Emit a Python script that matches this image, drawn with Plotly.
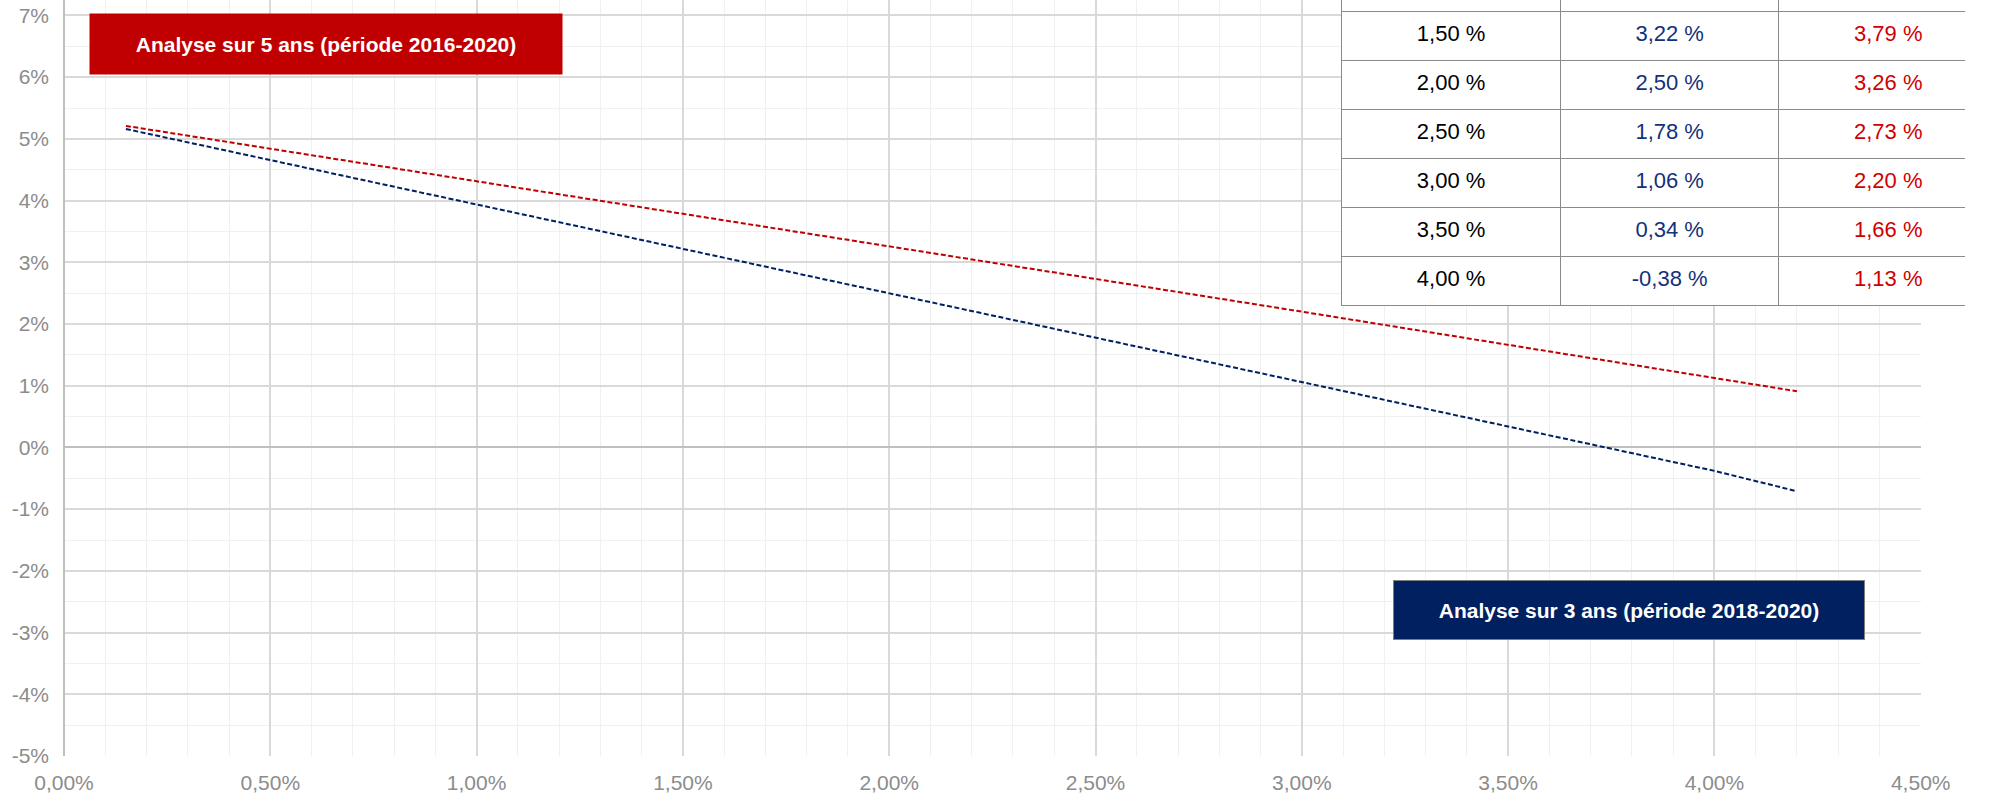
import plotly.graph_objects as go

# ---- data (fractions) ----
x_vals = [0.0015, 0.015, 0.020, 0.025, 0.030, 0.035, 0.040, 0.042]
y_3ans = [0.0516, 0.0322, 0.0250, 0.0178, 0.0106, 0.0034, -0.0038, -0.0071]
y_5ans = [0.0521, 0.0379, 0.0326, 0.0273, 0.0220, 0.0166, 0.0113, 0.0091]

table_taux = [1.50, 2.00, 2.50, 3.00, 3.50, 4.00]
table_3ans = [3.22, 2.50, 1.78, 1.06, 0.34, -0.38]
table_5ans = [3.79, 3.26, 2.73, 2.20, 1.66, 1.13]

x_tickvals = [0.0, 0.005, 0.010, 0.015, 0.020, 0.025, 0.030, 0.035, 0.040, 0.045]
x_ticktext = ["0,00%", "0,50%", "1,00%", "1,50%", "2,00%", "2,50%", "3,00%", "3,50%", "4,00%", "4,50%"]
y_tickvals = [-0.05, -0.04, -0.03, -0.02, -0.01, 0.0, 0.01, 0.02, 0.03, 0.04, 0.05, 0.06, 0.07]
y_ticktext = ["-5%", "-4%", "-3%", "-2%", "-1%", "0%", "1%", "2%", "3%", "4%", "5%", "6%", "7%"]

label_5ans = "Analyse sur 5 ans (période 2016-2020)"
label_3ans = "Analyse sur 3 ans (période 2018-2020)"

RED = "#C00000"
NAVY = "#002060"
TBL_BLUE = "#13317a"
TBL_RED = "#d00000"
FONT = "Liberation Sans, Arial, sans-serif"


def fmt(v):
    return f"{v:.2f}".replace(".", ",") + " %"


W, H = 1995, 795
ML, MR, MT, MB = 64, 0, 0, 39
PW, PH = W - ML - MR, H - MT - MB

fig = go.Figure()

fig.add_trace(go.Scatter(x=x_vals, y=y_3ans, mode="lines", name="3 ans", hoverinfo="skip",
                         line=dict(color=NAVY, width=2, dash="5px,2.5px")))
fig.add_trace(go.Scatter(x=x_vals, y=y_5ans, mode="lines", name="5 ans", hoverinfo="skip",
                         line=dict(color=RED, width=2, dash="5px,2.5px")))

# ---- table drawn on its own axes (top right, partly cropped) ----
rows = list(range(len(table_taux)))
columns = [
    ([fmt(v) for v in table_taux], "#000000"),
    ([fmt(v) for v in table_3ans], TBL_BLUE),
    ([fmt(v) for v in table_5ans], TBL_RED),
]
for ci, (texts, col) in enumerate(columns):
    fig.add_trace(go.Scatter(x=[ci] * len(rows), y=rows, text=texts, mode="text",
                             textposition="middle center", hoverinfo="skip",
                             textfont=dict(family=FONT, size=22, color=col),
                             xaxis="x2", yaxis="y2"))

tbl_left = 1362
row_h, head_h = 49, 11
tbl_h = head_h + row_h * len(rows)
col_w = 222

fig.add_annotation(xref="paper", yref="paper", x=(330 - ML) / PW, y=(PH - 44) / PH,
                   text="<b>" + label_5ans + "</b>", showarrow=False,
                   font=dict(family=FONT, size=21, color="white"),
                   bgcolor=RED, width=472, height=60, borderpad=0,
                   xanchor="center", yanchor="middle")
fig.add_annotation(xref="paper", yref="paper", x=(1654 - ML) / PW, y=(PH - 610) / PH,
                   text="<b>" + label_3ans + "</b>", showarrow=False,
                   font=dict(family=FONT, size=21, color="white"),
                   bgcolor=NAVY, bordercolor="#7f7f7f", borderwidth=1,
                   width=470, height=58, borderpad=0,
                   xanchor="center", yanchor="middle")

grid_t = "#8a8a8a"
fig.update_layout(
    width=W, height=H,
    margin=dict(l=ML, r=MR, t=MT, b=MB),
    paper_bgcolor="white", plot_bgcolor="white",
    showlegend=False, hovermode=False,
    font=dict(family=FONT, size=21, color="#8c8c8c"),
    xaxis=dict(range=[0, 0.045], domain=[0, (1950 - ML) / PW],
               tickvals=x_tickvals, ticktext=x_ticktext,
               showgrid=True, gridcolor="#d9d9d9", gridwidth=2,
               minor=dict(dtick=0.001, showgrid=True, gridcolor="#f0f0f0", gridwidth=1.3),
               zeroline=True, zerolinecolor="#bfbfbf", zerolinewidth=2,
               showline=False, ticks="", ticklabelstandoff=12,
               tickfont=dict(size=21, color="#8c8c8c")),
    yaxis=dict(range=[-0.05, 0.0725], domain=[0, 1],
               tickvals=y_tickvals, ticktext=y_ticktext,
               showgrid=True, gridcolor="#d9d9d9", gridwidth=2,
               minor=dict(dtick=0.005, showgrid=True, gridcolor="#f0f0f0", gridwidth=1.3),
               zeroline=True, zerolinecolor="#bfbfbf", zerolinewidth=2,
               showline=False, ticks="", ticklabelstandoff=14,
               tickfont=dict(size=21, color="#8c8c8c")),
    xaxis2=dict(domain=[(tbl_left - ML) / PW, 1.0], anchor="y2",
                range=[-0.5, -0.5 + (W - tbl_left) / col_w],
                tickvals=[0.5, 1.5], showticklabels=False, ticks="",
                showgrid=True, gridcolor=grid_t, gridwidth=1.3, zeroline=False,
                showline=True, linecolor=grid_t, linewidth=1.3, mirror=False),
    yaxis2=dict(domain=[1 - tbl_h / PH, 1.0], anchor="x2",
                range=[len(rows) - 0.5, -0.5 - head_h / row_h],
                tickvals=[r - 0.5 for r in rows], showticklabels=False, ticks="",
                showgrid=True, gridcolor=grid_t, gridwidth=1.3, zeroline=False,
                showline=True, linecolor=grid_t, linewidth=1.3, mirror=False),
)

fig.write_html("out.html", config={"displayModeBar": False},
               post_script="document.body.style.margin='0px';")
